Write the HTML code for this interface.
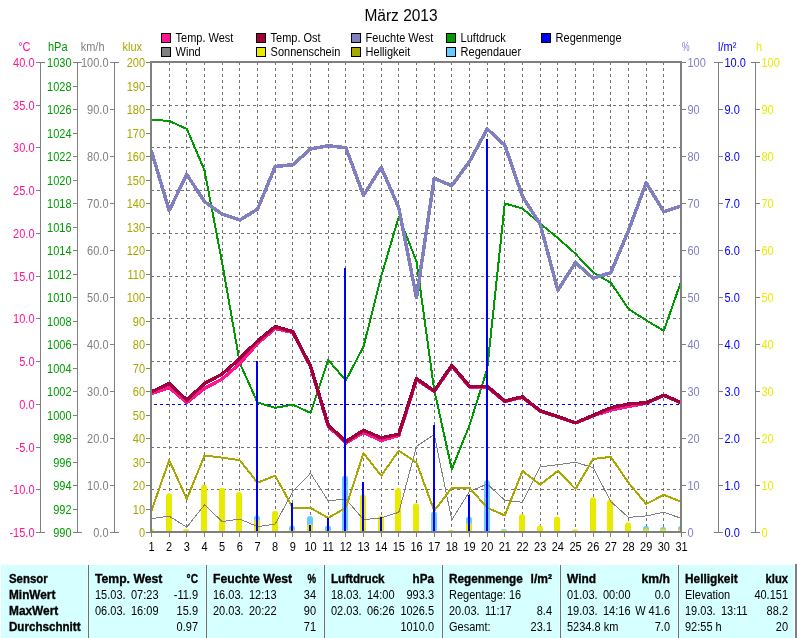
<!DOCTYPE html>
<html lang="de"><head><meta charset="utf-8"><title>März 2013</title>
<style>
html,body{margin:0;padding:0;background:#fff;}
body{width:797px;height:638px;overflow:hidden;}
svg{display:block;font-family:"Liberation Sans",Arial,sans-serif;font-size:11px;}
.ax{stroke:#808080;stroke-width:1;fill:none;shape-rendering:crispEdges;}
.gr{stroke:#727272;stroke-width:1;fill:none;stroke-dasharray:3 3;shape-rendering:crispEdges;}
.ln{fill:none;stroke-linejoin:round;stroke-linecap:round;shape-rendering:crispEdges;}
.b{font-weight:bold;stroke:#000;stroke-width:0.3px;}
.r{text-anchor:end;}
.m{text-anchor:middle;}
</style></head><body>
<svg width="797" height="638" viewBox="0 0 797 638">
<rect x="0" y="0" width="797" height="638" fill="#ffffff"/>
<text transform="translate(401 20.6) scale(1 1.1)" class="m" style="font-size:15.5px" fill="#000">März 2013</text>
<rect x="161.5" y="33.5" width="9" height="9" fill="#ff1493" stroke="#000" stroke-width="1" shape-rendering="crispEdges"/>
<text transform="translate(175.6 42) scale(1 1.19)" fill="#000">Temp. West</text>
<rect x="256.5" y="33.5" width="9" height="9" fill="#a0003c" stroke="#000" stroke-width="1" shape-rendering="crispEdges"/>
<text transform="translate(270.6 42) scale(1 1.19)" fill="#000">Temp. Ost</text>
<rect x="351.5" y="33.5" width="9" height="9" fill="#8080c0" stroke="#000" stroke-width="1" shape-rendering="crispEdges"/>
<text transform="translate(365.6 42) scale(1 1.19)" fill="#000">Feuchte West</text>
<rect x="446.5" y="33.5" width="9" height="9" fill="#009a00" stroke="#000" stroke-width="1" shape-rendering="crispEdges"/>
<text transform="translate(460.6 42) scale(1 1.19)" fill="#000">Luftdruck</text>
<rect x="541.5" y="33.5" width="9" height="9" fill="#0000f0" stroke="#000" stroke-width="1" shape-rendering="crispEdges"/>
<text transform="translate(555.6 42) scale(1 1.19)" fill="#000">Regenmenge</text>
<rect x="161.5" y="47.5" width="9" height="9" fill="#808080" stroke="#000" stroke-width="1" shape-rendering="crispEdges"/>
<text transform="translate(175.6 56) scale(1 1.19)" fill="#000">Wind</text>
<rect x="256.5" y="47.5" width="9" height="9" fill="#eaea00" stroke="#000" stroke-width="1" shape-rendering="crispEdges"/>
<text transform="translate(270.6 56) scale(1 1.19)" fill="#000">Sonnenschein</text>
<rect x="351.5" y="47.5" width="9" height="9" fill="#a8a800" stroke="#000" stroke-width="1" shape-rendering="crispEdges"/>
<text transform="translate(365.6 56) scale(1 1.19)" fill="#000">Helligkeit</text>
<rect x="446.5" y="47.5" width="9" height="9" fill="#66ccff" stroke="#000" stroke-width="1" shape-rendering="crispEdges"/>
<text transform="translate(460.6 56) scale(1 1.19)" fill="#000">Regendauer</text>
<path class="gr" d="M169.5 62 V531 M186.5 62 V531 M204.5 62 V531 M222.5 62 V531 M239.5 62 V531 M257.5 62 V531 M275.5 62 V531 M292.5 62 V531 M310.5 62 V531 M328.5 62 V531 M345.5 62 V531 M363.5 62 V531 M381.5 62 V531 M398.5 62 V531 M416.5 62 V531 M434.5 62 V531 M451.5 62 V531 M469.5 62 V531 M487.5 62 V531 M504.5 62 V531 M522.5 62 V531 M540.5 62 V531 M557.5 62 V531 M575.5 62 V531 M593.5 62 V531 M610.5 62 V531 M628.5 62 V531 M646.5 62 V531 M663.5 62 V531 M151 105.5 H680 M151 147.5 H680 M151 190.5 H680 M151 233.5 H680 M151 276.5 H680 M151 318.5 H680 M151 361.5 H680 M151 447.5 H680 M151 489.5 H680"/>
<path d="M154 404.5 H680" stroke="#0000ff" stroke-width="1" stroke-dasharray="3 3" fill="none" shape-rendering="crispEdges"/>
<g clip-path="url(#pc)">
<defs><clipPath id="pc"><rect x="151" y="62" width="530" height="470"/></clipPath></defs>
<path d="M254 531 V518.4 A3 3 0 0 1 260 518.4 V531 Z" fill="#66ccff"/>
<path d="M289 531 V528.4 A3 3 0 0 1 295 528.4 V531 Z" fill="#66ccff"/>
<path d="M307 531 V519 A3 3 0 0 1 313 519 V531 Z" fill="#66ccff"/>
<path d="M325 531 V528.4 A3 3 0 0 1 331 528.4 V531 Z" fill="#66ccff"/>
<path d="M342 531 V478.7 A3 3 0 0 1 348 478.7 V531 Z" fill="#66ccff"/>
<path d="M431 531 V514.6 A3 3 0 0 1 437 514.6 V531 Z" fill="#66ccff"/>
<path d="M466 531 V519.6 A3 3 0 0 1 472 519.6 V531 Z" fill="#66ccff"/>
<path d="M484 531 V483.2 A3 3 0 0 1 490 483.2 V531 Z" fill="#66ccff"/>
<path d="M501 531 V531 A3 2 0 0 1 507 531 V531 Z" fill="#66ccff"/>
<path d="M643 531 V528.9 A3 3 0 0 1 649 528.9 V531 Z" fill="#66ccff"/>
<path d="M660 531 V530 A3 3 0 0 1 666 530 V531 Z" fill="#66ccff"/>
<path d="M678 531 V529 A3 3 0 0 1 684 529 V531 Z" fill="#66ccff"/>
<path d="M148 531 V531 A3 2.5 0 0 1 154 531 V531 Z" fill="#eaea00"/>
<path d="M166 531 V496.3 A3 3 0 0 1 172 496.3 V531 Z" fill="#eaea00"/>
<path d="M183 531 V531 A3 2 0 0 1 189 531 V531 Z" fill="#eaea00"/>
<path d="M201 531 V487.7 A3 3 0 0 1 207 487.7 V531 Z" fill="#eaea00"/>
<path d="M219 531 V490.8 A3 3 0 0 1 225 490.8 V531 Z" fill="#eaea00"/>
<path d="M236 531 V495 A3 3 0 0 1 242 495 V531 Z" fill="#eaea00"/>
<path d="M254 531 V522 A3 3 0 0 1 260 522 V531 Z" fill="#eaea00"/>
<path d="M272 531 V513.8 A3 3 0 0 1 278 513.8 V531 Z" fill="#eaea00"/>
<path d="M289 531 V531 A3 2 0 0 1 295 531 V531 Z" fill="#eaea00"/>
<path d="M307 531 V527 A3 3 0 0 1 313 527 V531 Z" fill="#eaea00"/>
<path d="M325 531 V531 A3 1 0 0 1 331 531 V531 Z" fill="#eaea00"/>
<path d="M342 531 V531 A3 1 0 0 1 348 531 V531 Z" fill="#eaea00"/>
<path d="M360 531 V497.5 A3 3 0 0 1 366 497.5 V531 Z" fill="#eaea00"/>
<path d="M378 531 V518.4 A3 3 0 0 1 384 518.4 V531 Z" fill="#eaea00"/>
<path d="M395 531 V491.3 A3 3 0 0 1 401 491.3 V531 Z" fill="#eaea00"/>
<path d="M413 531 V506.3 A3 3 0 0 1 419 506.3 V531 Z" fill="#eaea00"/>
<path d="M448 531 V531 A3 1 0 0 1 454 531 V531 Z" fill="#eaea00"/>
<path d="M466 531 V525.4 A3 3 0 0 1 472 525.4 V531 Z" fill="#eaea00"/>
<path d="M501 531 V531 A3 1 0 0 1 507 531 V531 Z" fill="#eaea00"/>
<path d="M519 531 V517.1 A3 3 0 0 1 525 517.1 V531 Z" fill="#eaea00"/>
<path d="M537 531 V528.4 A3 3 0 0 1 543 528.4 V531 Z" fill="#eaea00"/>
<path d="M554 531 V519.6 A3 3 0 0 1 560 519.6 V531 Z" fill="#eaea00"/>
<path d="M572 531 V531 A3 1.8 0 0 1 578 531 V531 Z" fill="#eaea00"/>
<path d="M590 531 V500.3 A3 3 0 0 1 596 500.3 V531 Z" fill="#eaea00"/>
<path d="M607 531 V502.8 A3 3 0 0 1 613 502.8 V531 Z" fill="#eaea00"/>
<path d="M625 531 V525.4 A3 3 0 0 1 631 525.4 V531 Z" fill="#eaea00"/>
<path d="M643 531 V531 A3 2.5 0 0 1 649 531 V531 Z" fill="#eaea00"/>
<path d="M660 531 V531 A3 2.2 0 0 1 666 531 V531 Z" fill="#eaea00"/>
<path d="M678 531 V531 A3 2.5 0 0 1 684 531 V531 Z" fill="#eaea00"/>
<polyline class="ln" points="151.5,518.6 169.2,516.1 186.8,527.2 204.5,504.8 222.2,521.6 239.8,519.1 257.5,526.6 275.2,524.1 292.8,491.5 310.5,473.2 328.2,500.8 345.8,499 363.5,519.6 381.2,517.9 398.8,512.3 416.5,446.3 434.2,434.6 451.8,519.9 469.5,491.5 487.2,484 504.8,500.3 522.5,502.3 540.2,466.9 557.8,464.7 575.5,462.2 593.2,467.7 610.8,501.6 628.5,517.4 646.2,515.9 663.8,512.3 681.5,518.4" stroke="#808080" stroke-width="1"/>
<polyline class="ln" points="151.5,510.8 169.2,460.2 186.8,499 204.5,455.6 222.2,457.6 239.8,460.2 257.5,482.7 275.2,475.7 292.8,507.8 310.5,507.8 328.2,517.9 345.8,507.8 363.5,453.1 381.2,475.7 398.8,450.6 416.5,462.7 434.2,510.8 451.8,487.8 469.5,487.8 487.2,507.8 504.8,515.4 522.5,470.9 540.2,484.7 557.8,470.9 575.5,489 593.2,458.9 610.8,456.9 628.5,482.7 646.2,504 663.8,494.8 681.5,502" stroke="#a8a800" stroke-width="2"/>
<polyline class="ln" points="151.5,119.6 169.2,121 186.8,128.9 204.5,170.3 222.2,263 239.8,363 257.5,402.5 275.2,407.8 292.8,404.7 310.5,412.8 328.2,360 345.8,380.5 363.5,346.6 381.2,276.4 398.8,216.7 416.5,261.3 434.2,390 451.8,469.2 469.5,425.3 487.2,369 504.8,203.4 522.5,208.6 540.2,223.5 557.8,238 575.5,253.8 593.2,272.6 610.8,282.7 628.5,309 646.2,320.3 663.8,330.8 681.5,280.2" stroke="#009a00" stroke-width="2"/>
<polyline class="ln" points="151.5,151.4 169.2,210.4 186.8,174.5 204.5,201.6 222.2,214.2 239.8,220 257.5,209.2 275.2,166.5 292.8,164.7 310.5,149 328.2,145.7 345.8,147.7 363.5,195.4 381.2,167.3 398.8,207.9 416.5,297.7 434.2,178.3 451.8,185.8 469.5,161.5 487.2,128.9 504.8,145.2 522.5,196.6 540.2,224.2 557.8,290.2 575.5,262.6 593.2,278.4 610.8,272.6 628.5,230.5 646.2,182.8 663.8,211.7 681.5,205.9" stroke="#8080c0" stroke-width="3.5"/>
<polyline class="ln" points="151.5,393.5 169.2,387.5 186.8,402.5 204.5,388.5 222.2,379 239.8,363.5 257.5,343.5 275.2,328.5 292.8,332.5 310.5,366.5 328.2,426 345.8,443 363.5,432.5 381.2,440.5 398.8,435.5 416.5,379.5 434.2,391.5 451.8,366 469.5,387 487.2,387 504.8,401.5 522.5,397.3 540.2,411 557.8,416.8 575.5,423 593.2,415.8 610.8,410 628.5,406.5 646.2,403.2 663.8,395.5 681.5,403" stroke="#ff1493" stroke-width="3.4"/>
<polyline class="ln" points="151.5,391.8 169.2,383.5 186.8,400 204.5,383.5 222.2,374 239.8,358.5 257.5,341 275.2,326.6 292.8,331.6 310.5,366 328.2,425 345.8,441.6 363.5,430.3 381.2,437.9 398.8,434.1 416.5,378.5 434.2,391 451.8,365.3 469.5,386.2 487.2,386.2 504.8,401 522.5,396.8 540.2,410.8 557.8,416.5 575.5,422.8 593.2,415.3 610.8,407.8 628.5,404 646.2,402.7 663.8,395.2 681.5,402.7" stroke="#a0003c" stroke-width="3.4"/>
<rect x="256" y="361" width="2" height="170" fill="#0000f0" shape-rendering="crispEdges"/>
<rect x="291" y="503" width="2" height="28" fill="#0000f0" shape-rendering="crispEdges"/>
<rect x="309" y="525" width="2" height="6" fill="#0000f0" shape-rendering="crispEdges"/>
<rect x="327" y="518" width="2" height="13" fill="#0000f0" shape-rendering="crispEdges"/>
<rect x="344" y="268" width="2" height="263" fill="#0000f0" shape-rendering="crispEdges"/>
<rect x="362" y="482" width="2" height="49" fill="#0000f0" shape-rendering="crispEdges"/>
<rect x="380" y="517" width="2" height="14" fill="#0000f0" shape-rendering="crispEdges"/>
<rect x="433" y="425" width="2" height="106" fill="#0000f0" shape-rendering="crispEdges"/>
<rect x="468" y="495" width="2" height="36" fill="#0000f0" shape-rendering="crispEdges"/>
<rect x="486" y="139" width="2" height="392" fill="#0000f0" shape-rendering="crispEdges"/>
</g>
<rect x="151" y="62" width="530" height="470" fill="none" stroke="#808080" stroke-width="2" shape-rendering="crispEdges"/>
<path class="ax" d="M40.5 62 V533 M36 62.5 H45 M36 105.5 H40 M36 147.5 H40 M36 190.5 H40 M36 233.5 H40 M36 276.5 H40 M36 318.5 H40 M36 361.5 H40 M36 404.5 H40 M36 447.5 H40 M36 489.5 H40 M36 532.5 H45"/>
<text class="r" transform="translate(34.5 67) scale(1 1.19)" fill="#ff1493">40.0</text>
<text class="r" transform="translate(34.5 110) scale(1 1.19)" fill="#ff1493">35.0</text>
<text class="r" transform="translate(34.5 152) scale(1 1.19)" fill="#ff1493">30.0</text>
<text class="r" transform="translate(34.5 195) scale(1 1.19)" fill="#ff1493">25.0</text>
<text class="r" transform="translate(34.5 238) scale(1 1.19)" fill="#ff1493">20.0</text>
<text class="r" transform="translate(34.5 281) scale(1 1.19)" fill="#ff1493">15.0</text>
<text class="r" transform="translate(34.5 323) scale(1 1.19)" fill="#ff1493">10.0</text>
<text class="r" transform="translate(34.5 366) scale(1 1.19)" fill="#ff1493">5.0</text>
<text class="r" transform="translate(34.5 409) scale(1 1.19)" fill="#ff1493">0.0</text>
<text class="r" transform="translate(34.5 452) scale(1 1.19)" fill="#ff1493">-5.0</text>
<text class="r" transform="translate(34.5 494) scale(1 1.19)" fill="#ff1493">-10.0</text>
<text class="r" transform="translate(34.5 537) scale(1 1.19)" fill="#ff1493">-15.0</text>
<path class="ax" d="M77.5 62 V533 M73 62.5 H82 M73 86.5 H77 M73 109.5 H77 M73 133.5 H77 M73 156.5 H77 M73 180.5 H77 M73 203.5 H77 M73 227.5 H77 M73 250.5 H77 M73 274.5 H77 M73 297.5 H77 M73 321.5 H77 M73 344.5 H77 M73 368.5 H77 M73 391.5 H77 M73 415.5 H77 M73 438.5 H77 M73 462.5 H77 M73 485.5 H77 M73 509.5 H77 M73 532.5 H82"/>
<text class="r" transform="translate(71.5 67) scale(1 1.19)" fill="#009a00">1030</text>
<text class="r" transform="translate(71.5 91) scale(1 1.19)" fill="#009a00">1028</text>
<text class="r" transform="translate(71.5 114) scale(1 1.19)" fill="#009a00">1026</text>
<text class="r" transform="translate(71.5 138) scale(1 1.19)" fill="#009a00">1024</text>
<text class="r" transform="translate(71.5 161) scale(1 1.19)" fill="#009a00">1022</text>
<text class="r" transform="translate(71.5 185) scale(1 1.19)" fill="#009a00">1020</text>
<text class="r" transform="translate(71.5 208) scale(1 1.19)" fill="#009a00">1018</text>
<text class="r" transform="translate(71.5 232) scale(1 1.19)" fill="#009a00">1016</text>
<text class="r" transform="translate(71.5 255) scale(1 1.19)" fill="#009a00">1014</text>
<text class="r" transform="translate(71.5 279) scale(1 1.19)" fill="#009a00">1012</text>
<text class="r" transform="translate(71.5 302) scale(1 1.19)" fill="#009a00">1010</text>
<text class="r" transform="translate(71.5 326) scale(1 1.19)" fill="#009a00">1008</text>
<text class="r" transform="translate(71.5 349) scale(1 1.19)" fill="#009a00">1006</text>
<text class="r" transform="translate(71.5 373) scale(1 1.19)" fill="#009a00">1004</text>
<text class="r" transform="translate(71.5 396) scale(1 1.19)" fill="#009a00">1002</text>
<text class="r" transform="translate(71.5 420) scale(1 1.19)" fill="#009a00">1000</text>
<text class="r" transform="translate(71.5 443) scale(1 1.19)" fill="#009a00">998</text>
<text class="r" transform="translate(71.5 467) scale(1 1.19)" fill="#009a00">996</text>
<text class="r" transform="translate(71.5 490) scale(1 1.19)" fill="#009a00">994</text>
<text class="r" transform="translate(71.5 514) scale(1 1.19)" fill="#009a00">992</text>
<text class="r" transform="translate(71.5 537) scale(1 1.19)" fill="#009a00">990</text>
<path class="ax" d="M114.5 62 V533 M110 62.5 H119 M110 109.5 H114 M110 156.5 H114 M110 203.5 H114 M110 250.5 H114 M110 297.5 H114 M110 344.5 H114 M110 391.5 H114 M110 438.5 H114 M110 485.5 H114 M110 532.5 H119"/>
<text class="r" transform="translate(108.5 67) scale(1 1.19)" fill="#808080">100.0</text>
<text class="r" transform="translate(108.5 114) scale(1 1.19)" fill="#808080">90.0</text>
<text class="r" transform="translate(108.5 161) scale(1 1.19)" fill="#808080">80.0</text>
<text class="r" transform="translate(108.5 208) scale(1 1.19)" fill="#808080">70.0</text>
<text class="r" transform="translate(108.5 255) scale(1 1.19)" fill="#808080">60.0</text>
<text class="r" transform="translate(108.5 302) scale(1 1.19)" fill="#808080">50.0</text>
<text class="r" transform="translate(108.5 349) scale(1 1.19)" fill="#808080">40.0</text>
<text class="r" transform="translate(108.5 396) scale(1 1.19)" fill="#808080">30.0</text>
<text class="r" transform="translate(108.5 443) scale(1 1.19)" fill="#808080">20.0</text>
<text class="r" transform="translate(108.5 490) scale(1 1.19)" fill="#808080">10.0</text>
<text class="r" transform="translate(108.5 537) scale(1 1.19)" fill="#808080">0.0</text>
<path class="ax" d="M146 62.5 H150 M146 86.5 H150 M146 109.5 H150 M146 133.5 H150 M146 156.5 H150 M146 180.5 H150 M146 203.5 H150 M146 227.5 H150 M146 250.5 H150 M146 274.5 H150 M146 297.5 H150 M146 321.5 H150 M146 344.5 H150 M146 368.5 H150 M146 391.5 H150 M146 415.5 H150 M146 438.5 H150 M146 462.5 H150 M146 485.5 H150 M146 509.5 H150 M146 532.5 H150"/>
<text class="r" transform="translate(145 67) scale(1 1.19)" fill="#a8a800">200</text>
<text class="r" transform="translate(145 91) scale(1 1.19)" fill="#a8a800">190</text>
<text class="r" transform="translate(145 114) scale(1 1.19)" fill="#a8a800">180</text>
<text class="r" transform="translate(145 138) scale(1 1.19)" fill="#a8a800">170</text>
<text class="r" transform="translate(145 161) scale(1 1.19)" fill="#a8a800">160</text>
<text class="r" transform="translate(145 185) scale(1 1.19)" fill="#a8a800">150</text>
<text class="r" transform="translate(145 208) scale(1 1.19)" fill="#a8a800">140</text>
<text class="r" transform="translate(145 232) scale(1 1.19)" fill="#a8a800">130</text>
<text class="r" transform="translate(145 255) scale(1 1.19)" fill="#a8a800">120</text>
<text class="r" transform="translate(145 279) scale(1 1.19)" fill="#a8a800">110</text>
<text class="r" transform="translate(145 302) scale(1 1.19)" fill="#a8a800">100</text>
<text class="r" transform="translate(145 326) scale(1 1.19)" fill="#a8a800">90</text>
<text class="r" transform="translate(145 349) scale(1 1.19)" fill="#a8a800">80</text>
<text class="r" transform="translate(145 373) scale(1 1.19)" fill="#a8a800">70</text>
<text class="r" transform="translate(145 396) scale(1 1.19)" fill="#a8a800">60</text>
<text class="r" transform="translate(145 420) scale(1 1.19)" fill="#a8a800">50</text>
<text class="r" transform="translate(145 443) scale(1 1.19)" fill="#a8a800">40</text>
<text class="r" transform="translate(145 467) scale(1 1.19)" fill="#a8a800">30</text>
<text class="r" transform="translate(145 490) scale(1 1.19)" fill="#a8a800">20</text>
<text class="r" transform="translate(145 514) scale(1 1.19)" fill="#a8a800">10</text>
<text class="r" transform="translate(145 537) scale(1 1.19)" fill="#a8a800">0</text>
<path class="ax" d="M682 62.5 H686 M682 109.5 H686 M682 156.5 H686 M682 203.5 H686 M682 250.5 H686 M682 297.5 H686 M682 344.5 H686 M682 391.5 H686 M682 438.5 H686 M682 485.5 H686 M682 532.5 H686"/>
<text transform="translate(687.5 67) scale(1 1.19)" fill="#8080c0">100</text>
<text transform="translate(687.5 114) scale(1 1.19)" fill="#8080c0">90</text>
<text transform="translate(687.5 161) scale(1 1.19)" fill="#8080c0">80</text>
<text transform="translate(687.5 208) scale(1 1.19)" fill="#8080c0">70</text>
<text transform="translate(687.5 255) scale(1 1.19)" fill="#8080c0">60</text>
<text transform="translate(687.5 302) scale(1 1.19)" fill="#8080c0">50</text>
<text transform="translate(687.5 349) scale(1 1.19)" fill="#8080c0">40</text>
<text transform="translate(687.5 396) scale(1 1.19)" fill="#8080c0">30</text>
<text transform="translate(687.5 443) scale(1 1.19)" fill="#8080c0">20</text>
<text transform="translate(687.5 490) scale(1 1.19)" fill="#8080c0">10</text>
<text transform="translate(687.5 537) scale(1 1.19)" fill="#8080c0">0</text>
<path class="ax" d="M718.5 62 V533 M714 62.5 H723 M719 109.5 H723 M719 156.5 H723 M719 203.5 H723 M719 250.5 H723 M719 297.5 H723 M719 344.5 H723 M719 391.5 H723 M719 438.5 H723 M719 485.5 H723 M714 532.5 H723"/>
<text transform="translate(724.5 67) scale(1 1.19)" fill="#0000ff">10.0</text>
<text transform="translate(724.5 114) scale(1 1.19)" fill="#0000ff">9.0</text>
<text transform="translate(724.5 161) scale(1 1.19)" fill="#0000ff">8.0</text>
<text transform="translate(724.5 208) scale(1 1.19)" fill="#0000ff">7.0</text>
<text transform="translate(724.5 255) scale(1 1.19)" fill="#0000ff">6.0</text>
<text transform="translate(724.5 302) scale(1 1.19)" fill="#0000ff">5.0</text>
<text transform="translate(724.5 349) scale(1 1.19)" fill="#0000ff">4.0</text>
<text transform="translate(724.5 396) scale(1 1.19)" fill="#0000ff">3.0</text>
<text transform="translate(724.5 443) scale(1 1.19)" fill="#0000ff">2.0</text>
<text transform="translate(724.5 490) scale(1 1.19)" fill="#0000ff">1.0</text>
<text transform="translate(724.5 537) scale(1 1.19)" fill="#0000ff">0.0</text>
<path class="ax" d="M755.5 62 V533 M751 62.5 H760 M756 109.5 H760 M756 156.5 H760 M756 203.5 H760 M756 250.5 H760 M756 297.5 H760 M756 344.5 H760 M756 391.5 H760 M756 438.5 H760 M756 485.5 H760 M751 532.5 H760"/>
<text transform="translate(761.5 67) scale(1 1.19)" fill="#eaea00">100</text>
<text transform="translate(761.5 114) scale(1 1.19)" fill="#eaea00">90</text>
<text transform="translate(761.5 161) scale(1 1.19)" fill="#eaea00">80</text>
<text transform="translate(761.5 208) scale(1 1.19)" fill="#eaea00">70</text>
<text transform="translate(761.5 255) scale(1 1.19)" fill="#eaea00">60</text>
<text transform="translate(761.5 302) scale(1 1.19)" fill="#eaea00">50</text>
<text transform="translate(761.5 349) scale(1 1.19)" fill="#eaea00">40</text>
<text transform="translate(761.5 396) scale(1 1.19)" fill="#eaea00">30</text>
<text transform="translate(761.5 443) scale(1 1.19)" fill="#eaea00">20</text>
<text transform="translate(761.5 490) scale(1 1.19)" fill="#eaea00">10</text>
<text transform="translate(761.5 537) scale(1 1.19)" fill="#eaea00">0</text>
<text class="r" transform="translate(30.5 51) scale(1 1.19)" fill="#ff1493">°C</text>
<text class="r" transform="translate(67.5 51) scale(1 1.19)" fill="#009a00">hPa</text>
<text class="r" transform="translate(104.5 51) scale(1 1.19)" fill="#808080">km/h</text>
<text class="r" transform="translate(142 51) scale(1 1.19)" fill="#a8a800">klux</text>
<text transform="translate(682 51) scale(1 1.19)" fill="#8080c0" textLength="7.6" lengthAdjust="spacingAndGlyphs">%</text>
<text transform="translate(718 51) scale(1 1.19)" fill="#0000ff">l/m²</text>
<text transform="translate(756 51) scale(1 1.19)" fill="#eaea00">h</text>
<path class="ax" d="M151.5 533 V537 M169.5 533 V537 M186.5 533 V537 M204.5 533 V537 M222.5 533 V537 M239.5 533 V537 M257.5 533 V537 M275.5 533 V537 M292.5 533 V537 M310.5 533 V537 M328.5 533 V537 M345.5 533 V537 M363.5 533 V537 M381.5 533 V537 M398.5 533 V537 M416.5 533 V537 M434.5 533 V537 M451.5 533 V537 M469.5 533 V537 M487.5 533 V537 M504.5 533 V537 M522.5 533 V537 M540.5 533 V537 M557.5 533 V537 M575.5 533 V537 M593.5 533 V537 M610.5 533 V537 M628.5 533 V537 M646.5 533 V537 M663.5 533 V537 M681.5 533 V537"/>
<text class="m" transform="translate(151.5 551) scale(1 1.19)" fill="#000">1</text>
<text class="m" transform="translate(169.167 551) scale(1 1.19)" fill="#000">2</text>
<text class="m" transform="translate(186.833 551) scale(1 1.19)" fill="#000">3</text>
<text class="m" transform="translate(204.5 551) scale(1 1.19)" fill="#000">4</text>
<text class="m" transform="translate(222.167 551) scale(1 1.19)" fill="#000">5</text>
<text class="m" transform="translate(239.833 551) scale(1 1.19)" fill="#000">6</text>
<text class="m" transform="translate(257.5 551) scale(1 1.19)" fill="#000">7</text>
<text class="m" transform="translate(275.167 551) scale(1 1.19)" fill="#000">8</text>
<text class="m" transform="translate(292.833 551) scale(1 1.19)" fill="#000">9</text>
<text class="m" transform="translate(310.5 551) scale(1 1.19)" fill="#000">10</text>
<text class="m" transform="translate(328.167 551) scale(1 1.19)" fill="#000">11</text>
<text class="m" transform="translate(345.833 551) scale(1 1.19)" fill="#000">12</text>
<text class="m" transform="translate(363.5 551) scale(1 1.19)" fill="#000">13</text>
<text class="m" transform="translate(381.167 551) scale(1 1.19)" fill="#000">14</text>
<text class="m" transform="translate(398.833 551) scale(1 1.19)" fill="#000">15</text>
<text class="m" transform="translate(416.5 551) scale(1 1.19)" fill="#000">16</text>
<text class="m" transform="translate(434.167 551) scale(1 1.19)" fill="#000">17</text>
<text class="m" transform="translate(451.833 551) scale(1 1.19)" fill="#000">18</text>
<text class="m" transform="translate(469.5 551) scale(1 1.19)" fill="#000">19</text>
<text class="m" transform="translate(487.167 551) scale(1 1.19)" fill="#000">20</text>
<text class="m" transform="translate(504.833 551) scale(1 1.19)" fill="#000">21</text>
<text class="m" transform="translate(522.5 551) scale(1 1.19)" fill="#000">22</text>
<text class="m" transform="translate(540.167 551) scale(1 1.19)" fill="#000">23</text>
<text class="m" transform="translate(557.833 551) scale(1 1.19)" fill="#000">24</text>
<text class="m" transform="translate(575.5 551) scale(1 1.19)" fill="#000">25</text>
<text class="m" transform="translate(593.167 551) scale(1 1.19)" fill="#000">26</text>
<text class="m" transform="translate(610.833 551) scale(1 1.19)" fill="#000">27</text>
<text class="m" transform="translate(628.5 551) scale(1 1.19)" fill="#000">28</text>
<text class="m" transform="translate(646.167 551) scale(1 1.19)" fill="#000">29</text>
<text class="m" transform="translate(663.833 551) scale(1 1.19)" fill="#000">30</text>
<text class="m" transform="translate(681.5 551) scale(1 1.19)" fill="#000">31</text>
<rect x="1" y="565" width="793" height="73" fill="#d6ffff"/>
<path d="M87.5 565 V638 M205.5 565 V638 M323.5 565 V638 M441.5 565 V638 M559.5 565 V638 M677.5 565 V638" stroke="#eaffff" stroke-width="1" fill="none" shape-rendering="crispEdges"/>
<path d="M88.5 565 V638 M206.5 565 V638 M324.5 565 V638 M442.5 565 V638 M560.5 565 V638 M678.5 565 V638" stroke="#707070" stroke-width="1" fill="none" shape-rendering="crispEdges"/>
<rect x="795" y="564" width="2" height="74" fill="#808080"/>
<text class="b" transform="translate(9 583) scale(1 1.19)" fill="#000" textLength="38.6" lengthAdjust="spacingAndGlyphs">Sensor</text>
<text class="b" transform="translate(9 599) scale(1 1.19)" fill="#000" textLength="46.4" lengthAdjust="spacingAndGlyphs">MinWert</text>
<text class="b" transform="translate(9 615) scale(1 1.19)" fill="#000" textLength="49.2" lengthAdjust="spacingAndGlyphs">MaxWert</text>
<text class="b" transform="translate(9 631) scale(1 1.19)" fill="#000" textLength="71.5" lengthAdjust="spacingAndGlyphs">Durchschnitt</text>
<text class="b" transform="translate(95 583) scale(1 1.19)" fill="#000" textLength="67.3" lengthAdjust="spacingAndGlyphs">Temp. West</text>
<text class="b r" transform="translate(198 583) scale(1 1.19)" fill="#000" textLength="11.4" lengthAdjust="spacingAndGlyphs">°C</text>
<text transform="translate(95 599) scale(1 1.19)" fill="#000">15.03.</text>
<text transform="translate(131 599) scale(1 1.19)" fill="#000">07:23</text>
<text class="r" transform="translate(198 599) scale(1 1.19)" fill="#000">-11.9</text>
<text transform="translate(95 615) scale(1 1.19)" fill="#000">06.03.</text>
<text transform="translate(131 615) scale(1 1.19)" fill="#000">16:09</text>
<text class="r" transform="translate(198 615) scale(1 1.19)" fill="#000">15.9</text>
<text class="r" transform="translate(198 631) scale(1 1.19)" fill="#000">0.97</text>
<text class="b" transform="translate(213 583) scale(1 1.19)" fill="#000" textLength="79.1" lengthAdjust="spacingAndGlyphs">Feuchte West</text>
<text class="b r" transform="translate(316 583) scale(1 1.19)" fill="#000" textLength="8.6" lengthAdjust="spacingAndGlyphs">%</text>
<text transform="translate(213 599) scale(1 1.19)" fill="#000">16.03.</text>
<text transform="translate(249 599) scale(1 1.19)" fill="#000">12:13</text>
<text class="r" transform="translate(316 599) scale(1 1.19)" fill="#000">34</text>
<text transform="translate(213 615) scale(1 1.19)" fill="#000">20.03.</text>
<text transform="translate(249 615) scale(1 1.19)" fill="#000">20:22</text>
<text class="r" transform="translate(316 615) scale(1 1.19)" fill="#000">90</text>
<text class="r" transform="translate(316 631) scale(1 1.19)" fill="#000">71</text>
<text class="b" transform="translate(331 583) scale(1 1.19)" fill="#000" textLength="53.6" lengthAdjust="spacingAndGlyphs">Luftdruck</text>
<text class="b r" transform="translate(434 583) scale(1 1.19)" fill="#000" textLength="21.4" lengthAdjust="spacingAndGlyphs">hPa</text>
<text transform="translate(331 599) scale(1 1.19)" fill="#000">18.03.</text>
<text transform="translate(367 599) scale(1 1.19)" fill="#000">14:00</text>
<text class="r" transform="translate(434 599) scale(1 1.19)" fill="#000">993.3</text>
<text transform="translate(331 615) scale(1 1.19)" fill="#000">02.03.</text>
<text transform="translate(367 615) scale(1 1.19)" fill="#000">06:26</text>
<text class="r" transform="translate(434 615) scale(1 1.19)" fill="#000">1026.5</text>
<text class="r" transform="translate(434 631) scale(1 1.19)" fill="#000">1010.0</text>
<text class="b" transform="translate(449 583) scale(1 1.19)" fill="#000" textLength="73.8" lengthAdjust="spacingAndGlyphs">Regenmenge</text>
<text class="b r" transform="translate(552 583) scale(1 1.19)" fill="#000" textLength="21.4" lengthAdjust="spacingAndGlyphs">l/m²</text>
<text transform="translate(449 599) scale(1 1.19)" fill="#000">Regentage: 16</text>
<text transform="translate(449 615) scale(1 1.19)" fill="#000">20.03.</text>
<text transform="translate(485 615) scale(1 1.19)" fill="#000">11:17</text>
<text class="r" transform="translate(552 615) scale(1 1.19)" fill="#000">8.4</text>
<text transform="translate(449 631) scale(1 1.19)" fill="#000">Gesamt:</text>
<text class="r" transform="translate(552 631) scale(1 1.19)" fill="#000">23.1</text>
<text class="b" transform="translate(567 583) scale(1 1.19)" fill="#000" textLength="29" lengthAdjust="spacingAndGlyphs">Wind</text>
<text class="b r" transform="translate(670 583) scale(1 1.19)" fill="#000" textLength="28.5" lengthAdjust="spacingAndGlyphs">km/h</text>
<text transform="translate(567 599) scale(1 1.19)" fill="#000">01.03.</text>
<text transform="translate(603 599) scale(1 1.19)" fill="#000">00:00</text>
<text class="r" transform="translate(670 599) scale(1 1.19)" fill="#000">0.0</text>
<text transform="translate(567 615) scale(1 1.19)" fill="#000">19.03.</text>
<text transform="translate(603 615) scale(1 1.19)" fill="#000">14:16</text>
<text class="r" transform="translate(670 615) scale(1 1.19)" fill="#000">W 41.6</text>
<text transform="translate(567 631) scale(1 1.19)" fill="#000">5234.8 km</text>
<text class="r" transform="translate(670 631) scale(1 1.19)" fill="#000">7.0</text>
<text class="b" transform="translate(685 583) scale(1 1.19)" fill="#000" textLength="52.7" lengthAdjust="spacingAndGlyphs">Helligkeit</text>
<text class="b r" transform="translate(788 583) scale(1 1.19)" fill="#000" textLength="22.4" lengthAdjust="spacingAndGlyphs">klux</text>
<text transform="translate(685 599) scale(1 1.19)" fill="#000">Elevation</text>
<text class="r" transform="translate(788 599) scale(1 1.19)" fill="#000">40.151</text>
<text transform="translate(685 615) scale(1 1.19)" fill="#000">19.03.</text>
<text transform="translate(721 615) scale(1 1.19)" fill="#000">13:11</text>
<text class="r" transform="translate(788 615) scale(1 1.19)" fill="#000">88.2</text>
<text transform="translate(685 631) scale(1 1.19)" fill="#000">92:55 h</text>
<text class="r" transform="translate(788 631) scale(1 1.19)" fill="#000">20</text>
</svg>
</body></html>
